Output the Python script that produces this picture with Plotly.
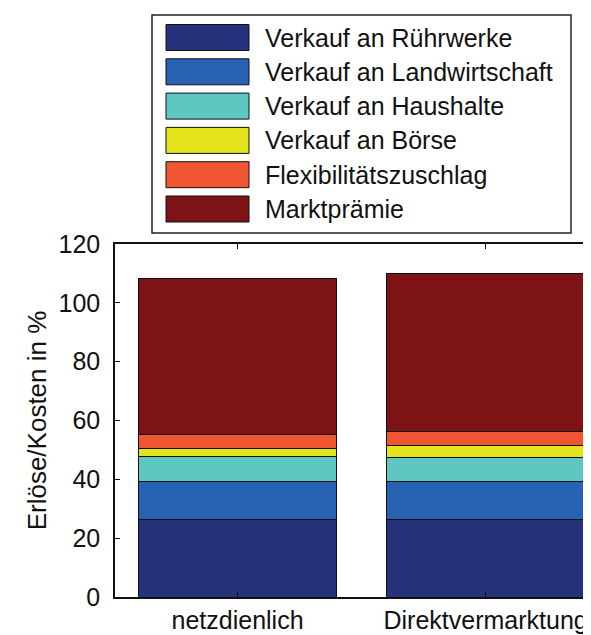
import plotly.graph_objects as go

categories = ["netzdienlich", "Direktvermarktung"]
series_names = [
    "Verkauf an Rührwerke",
    "Verkauf an Landwirtschaft",
    "Verkauf an Haushalte",
    "Verkauf an Börse",
    "Flexibilitätszuschlag",
    "Marktprämie",
]
ruehrwerke = [26.5, 26.4]
landwirtschaft = [12.7, 12.8]
haushalte = [8.4, 8.2]
boerse = [2.8, 4.0]
flex = [4.8, 4.7]
marktpraemie = [53.0, 53.8]
colors = ["#27327c", "#2761b1", "#5ec7c1", "#e4e41e", "#ef5530", "#7e1316"]
y_ticks = [0, 20, 40, 60, 80, 100, 120]

series_values = [ruehrwerke, landwirtschaft, haushalte, boerse, flex, marktpraemie]

# page has an 8px body margin; figure sized so it ends at the window edge
OFF = 8
W, H = 591 - OFF, 635 - OFF
ML, MR, MT, MB = 115 - OFF, 0, 244 - OFF, 635 - 597
PW, PH = W - ML - MR, H - MT - MB
FONT = "Liberation Sans, Arial, sans-serif"

fig = go.Figure()
for name, vals, col in zip(series_names, series_values, colors):
    fig.add_trace(go.Bar(
        x=categories, y=vals, name=name, width=0.8,
        marker=dict(color=col, line=dict(color="#111111", width=1)),
        showlegend=False,
    ))

# convert reference page pixels to paper coords
def px_x(x):
    return (x - OFF - ML) / PW

def px_y(y):
    return (H - MB - (y - OFF)) / PH

shapes = []
annotations = []
shapes.append(dict(type="rect", xref="paper", yref="paper",
                   x0=px_x(152), x1=px_x(571), y0=px_y(233), y1=px_y(15),
                   line=dict(color="#222222", width=1.5), fillcolor="white"))
for i, (name, col) in enumerate(zip(series_names, colors)):
    cy = 37.5 + 34.3 * i
    shapes.append(dict(type="rect", xref="paper", yref="paper",
                       x0=px_x(166), x1=px_x(249), y0=px_y(cy + 13), y1=px_y(cy - 13),
                       line=dict(color="#111111", width=1), fillcolor=col))
    annotations.append(dict(xref="paper", yref="paper", x=px_x(263), y=px_y(cy),
                            text=name, showarrow=False, xanchor="left", yanchor="middle",
                            font=dict(family=FONT, size=25, color="#111111")))

fig.update_layout(
    width=W, height=H,
    margin=dict(l=ML, r=MR, t=MT, b=MB, autoexpand=False),
    paper_bgcolor="white", plot_bgcolor="white",
    barmode="stack",
    bargap=0.2,
    font=dict(family=FONT, size=25, color="#111111"),
    shapes=shapes, annotations=annotations,
    xaxis=dict(
        range=[-0.494, 1.425], showline=True, linecolor="#111111", linewidth=1.5,
        mirror="ticks", ticks="inside", ticklen=5, tickcolor="#111111",
        showgrid=False, tickfont=dict(size=25), automargin=False,
        ticklabelstandoff=0,
    ),
    yaxis=dict(
        range=[0, 120], tickvals=y_ticks, showline=True, linecolor="#111111", linewidth=1.5,
        mirror=False, ticks="inside", ticklen=5, tickcolor="#111111",
        showgrid=False, zeroline=False, tickfont=dict(size=25), automargin=False,
        title=dict(text="Erlöse/Kosten in %", font=dict(size=26), standoff=4),
        ticklabelstandoff=8,
    ),
)

fig.write_html("out.html")
